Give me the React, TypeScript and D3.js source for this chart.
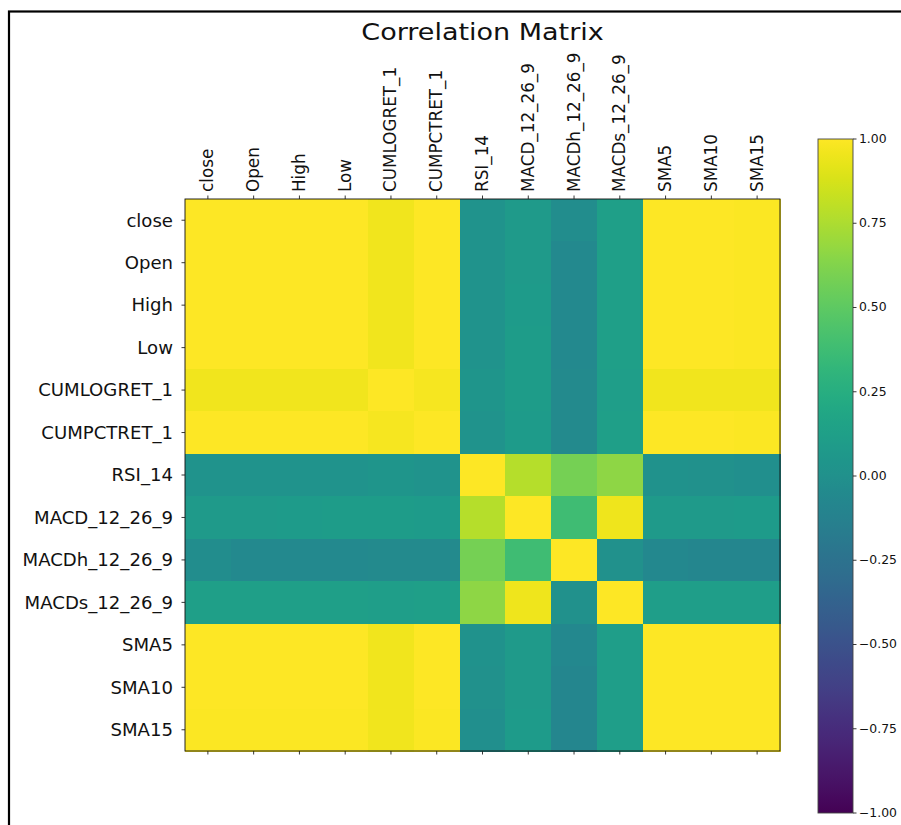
import * as d3 from 'd3';

const labels = [
  'close', 'Open', 'High', 'Low', 'CUMLOGRET_1', 'CUMPCTRET_1', 'RSI_14',
  'MACD_12_26_9', 'MACDh_12_26_9', 'MACDs_12_26_9', 'SMA5', 'SMA10', 'SMA15',
];

// one row of the correlation table per variable (symmetric)
const rowClose = [1.0, 1.0, 1.0, 1.0, 0.96, 1.0, 0.03, 0.08, -0.03, 0.12, 1.0, 1.0, 0.99];
const rowOpen = [1.0, 1.0, 1.0, 1.0, 0.96, 1.0, 0.03, 0.08, -0.06, 0.12, 1.0, 1.0, 0.99];
const rowHigh = [1.0, 1.0, 1.0, 1.0, 0.96, 1.0, 0.03, 0.09, -0.06, 0.12, 1.0, 1.0, 0.99];
const rowLow = [1.0, 1.0, 1.0, 1.0, 0.96, 1.0, 0.03, 0.1, -0.06, 0.12, 1.0, 1.0, 0.99];
const rowCumLog = [0.96, 0.96, 0.96, 0.96, 1.0, 0.97, 0.04, 0.1, -0.05, 0.11, 0.96, 0.96, 0.96];
const rowCumPct = [1.0, 1.0, 1.0, 1.0, 0.97, 1.0, 0.03, 0.09, -0.05, 0.12, 1.0, 1.0, 0.99];
const rowRsi = [0.03, 0.03, 0.03, 0.03, 0.04, 0.03, 1.0, 0.78, 0.58, 0.66, 0.01, 0.0, -0.01];
const rowMacd = [0.08, 0.08, 0.09, 0.1, 0.1, 0.09, 0.78, 1.0, 0.38, 0.95, 0.08, 0.08, 0.09];
const rowMacdh = [-0.03, -0.06, -0.06, -0.06, -0.05, -0.05, 0.58, 0.38, 1.0, 0.0, -0.07, -0.08, -0.08];
const rowMacds = [0.12, 0.12, 0.12, 0.12, 0.11, 0.12, 0.66, 0.95, 0.0, 1.0, 0.11, 0.11, 0.11];
const rowSma5 = [1.0, 1.0, 1.0, 1.0, 0.96, 1.0, 0.01, 0.08, -0.07, 0.11, 1.0, 1.0, 1.0];
const rowSma10 = [1.0, 1.0, 1.0, 1.0, 0.96, 1.0, 0.0, 0.08, -0.08, 0.11, 1.0, 1.0, 1.0];
const rowSma15 = [0.99, 0.99, 0.99, 0.99, 0.96, 0.99, -0.01, 0.09, -0.08, 0.11, 1.0, 1.0, 1.0];

const matrix = [
  rowClose, rowOpen, rowHigh, rowLow, rowCumLog, rowCumPct, rowRsi,
  rowMacd, rowMacdh, rowMacds, rowSma5, rowSma10, rowSma15,
];

const cbarTicks = [1.0, 0.75, 0.5, 0.25, 0.0, -0.25, -0.5, -0.75, -1.0];

const W = 901;
const H = 825;
const FONT = '"DejaVu Sans", sans-serif';
const SX = 1.078; // the picture is a bit wider than tall

export default function App() {
  const x = d3.scaleBand<string>().domain(labels).range([185, 780]);
  const y = d3.scaleBand<string>().domain(labels).range([199, 751]);
  const colour = d3.scaleSequential(d3.interpolateViridis).domain([-1, 1]);
  const cb = d3.scaleLinear().domain([-1, 1]).range([813, 139]);
  const fmt = (v: number) => v.toFixed(2).replace('-', '\u2212');
  const stops = d3.range(0, 1.0001, 0.02);

  return (
    <svg width={W} height={H} style={{ position: 'absolute', left: 0, top: 0, display: 'block', background: '#fff' }}>
      <defs>
        <linearGradient id="viridis" x1="0" y1="1" x2="0" y2="0">
          {stops.map((t) => (
            <stop key={t} offset={t} stopColor={d3.interpolateViridis(t)} />
          ))}
        </linearGradient>
      </defs>

      {/* outer frame */}
      <rect x={9} y={11.5} width={1000} height={1000} fill="none" stroke="#000" strokeWidth={2.2} />

      <text
        transform={`translate(${(185 + 780) / 2},39.5) scale(1.2,1)`}
        textAnchor="middle"
        fontFamily={FONT}
        fontSize={22.5}
        fill="#111"
      >
        Correlation Matrix
      </text>

      {/* cells */}
      <g>
        {matrix.map((row, i) =>
          row.map((v, j) => (
            <rect
              key={`${i}-${j}`}
              x={x(labels[j])!}
              y={y(labels[i])!}
              width={x.bandwidth() + 0.5}
              height={y.bandwidth() + 0.5}
              fill={colour(v)}
              shapeRendering="crispEdges"
            />
          )),
        )}
      </g>
      <rect x={185} y={199} width={595} height={552} fill="none" stroke="#111" strokeWidth={0.9} />

      {/* x ticks top + bottom, labels on top */}
      {labels.map((l) => {
        const cx = x(l)! + x.bandwidth() / 2;
        return (
          <g key={`x-${l}`}>
            <line x1={cx} x2={cx} y1={195.5} y2={199} stroke="#222" strokeWidth={0.9} />
            <line x1={cx} x2={cx} y1={751} y2={754.5} stroke="#222" strokeWidth={0.9} />
            <text
              transform={`translate(${cx + 5.5},192) scale(${SX},1) rotate(-90)`}
              fontFamily={FONT}
              fontSize={16.8}
              fill="#111"
            >
              {l}
            </text>
          </g>
        );
      })}

      {/* y ticks + labels */}
      {labels.map((l) => {
        const cy = y(l)! + y.bandwidth() / 2;
        return (
          <g key={`y-${l}`}>
            <line x1={181.5} x2={185} y1={cy} y2={cy} stroke="#222" strokeWidth={0.9} />
            <text
              transform={`translate(173,${cy + 0.5}) scale(${SX},1)`}
              textAnchor="end"
              dominantBaseline="central"
              fontFamily={FONT}
              fontSize={16.8}
              fill="#111"
            >
              {l}
            </text>
          </g>
        );
      })}

      {/* colour bar */}
      <rect x={818} y={139} width={35} height={674} fill="url(#viridis)" stroke="#444" strokeWidth={0.9} />
      {cbarTicks.map((t) => (
        <g key={`c-${t}`}>
          <line x1={853} x2={856.5} y1={cb(t)} y2={cb(t)} stroke="#222" strokeWidth={0.9} />
          <text
            transform={`translate(859,${cb(t)}) scale(${SX},1)`}
            dominantBaseline="central"
            fontFamily={FONT}
            fontSize={11.5}
            fill="#111"
          >
            {fmt(t)}
          </text>
        </g>
      ))}
    </svg>
  );
}
